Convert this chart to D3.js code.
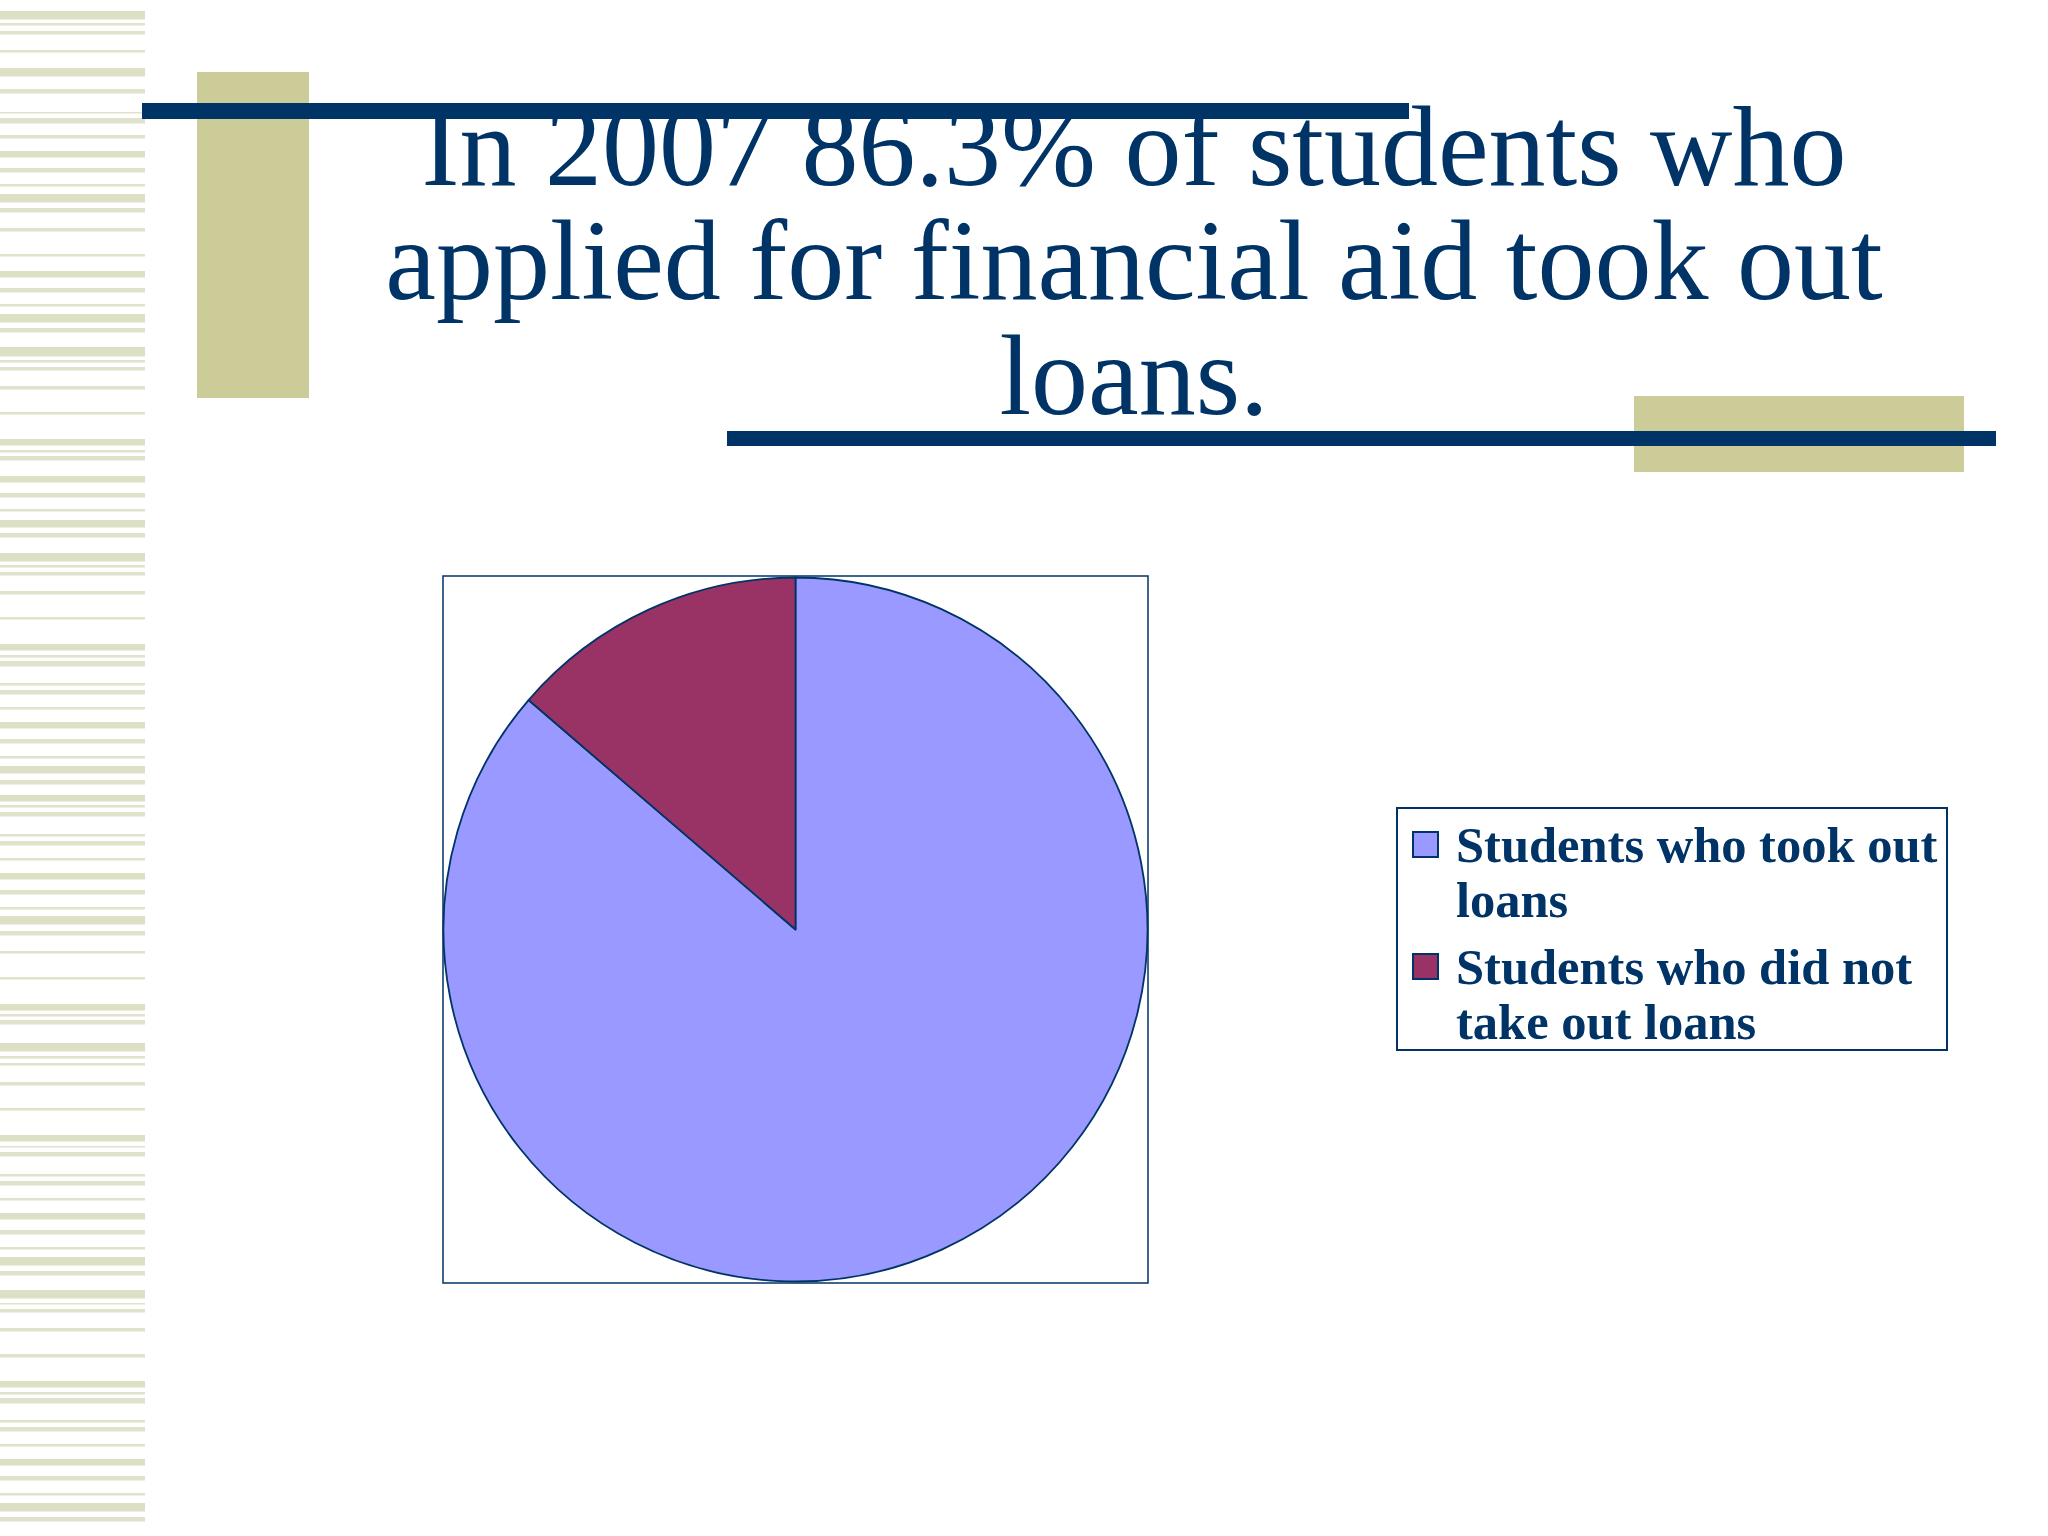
<!DOCTYPE html>
<html>
<head>
<meta charset="utf-8">
<script src="https://cdn.jsdelivr.net/npm/d3@7"></script>
<style>
  html, body { margin: 0; padding: 0; background: #ffffff; }
  svg { display: block; }
</style>
</head>
<body>
<svg id="chart" width="2048" height="1536"></svg>
<script>
// ---- data ----
const titleLines = ["In 2007 86.3% of students who", "applied for financial aid took out", "loans."];
const categories = ["Students who took out loans", "Students who did not take out loans"];
const legendLines = [["Students who took out", "loans"], ["Students who did not", "take out loans"]];
const values = [86.3, 13.7];
const colors = ["#9999ff", "#993366"];

// decorative stripe band (y start, y end)
const stripes = [[11,19],[23,25],[31,34],[50,52],[68,76],[89,93],[112,113],[118,123],[135,138],[151,157],[168,172],[184,186],[194,202],[208,212],[228,231],[254,256],[271,277],[288,292],[304,306],[314,322],[328,332],[347,356],[360,362],[367,370],[386,389],[412,414],[439,445],[450,452],[456,460],[476,482],[493,497],[509,511],[520,527],[533,537],[553,561],[565,567],[572,575],[591,594],[617,619],[644,650],[655,657],[661,666],[683,685],[690,694],[707,709],[722,728],[739,743],[756,758],[766,773],[780,784],[795,801],[805,807],[812,816],[834,836],[841,845],[858,860],[873,879],[890,894],[907,909],[916,924],[931,935],[951,953],[977,979],[1004,1010],[1014,1016],[1020,1024],[1043,1051],[1056,1058],[1063,1065],[1082,1085],[1108,1110],[1135,1141],[1146,1147],[1152,1156],[1174,1176],[1181,1185],[1198,1200],[1213,1219],[1230,1234],[1247,1249],[1257,1265],[1271,1275],[1290,1298],[1303,1304],[1309,1312],[1328,1331],[1354,1357],[1381,1387],[1392,1394],[1398,1403],[1420,1422],[1427,1431],[1444,1446],[1459,1465],[1476,1480],[1493,1495],[1503,1511],[1517,1521]];

const navy = "#003366";
const tan = "#cccc99";
const svg = d3.select("#chart");

// background
svg.append("rect").attr("width", 2048).attr("height", 1536).attr("fill", "#ffffff");

// stripes
svg.append("g").selectAll("rect").data(stripes).join("rect")
  .attr("x", 0).attr("width", 145)
  .attr("y", d => d[0]).attr("height", d => Math.max(1.5, d[1] - d[0] + 0.5))
  .attr("fill", d => (d[1] - d[0] >= 6 ? "#dde0c5" : "#e0e2cb"));

// tan rectangles
svg.append("rect").attr("x", 197).attr("y", 72).attr("width", 112).attr("height", 326).attr("fill", tan);
svg.append("rect").attr("x", 1634).attr("y", 396).attr("width", 330).attr("height", 76).attr("fill", tan);

// title
const title = svg.append("g");
const baselines = [185, 299, 414];
title.selectAll("text").data(titleLines).join("text")
  .attr("x", 1134).attr("y", (d, i) => baselines[i])
  .attr("text-anchor", "middle")
  .attr("font-family", "'Liberation Serif', 'Times New Roman', serif")
  .attr("font-size", 114)
  .attr("fill", navy)
  .text(d => d);

// blue rules (drawn above the title)
svg.append("rect").attr("x", 142).attr("y", 103).attr("width", 1267).attr("height", 16).attr("fill", navy);
svg.append("rect").attr("x", 727).attr("y", 431).attr("width", 1269).attr("height", 15).attr("fill", navy);

// pie plot area
const box = {x: 443, y: 576, w: 705, h: 707};
svg.append("rect").attr("x", box.x).attr("y", box.y).attr("width", box.w).attr("height", box.h)
  .attr("fill", "#ffffff").attr("stroke", navy).attr("stroke-width", 1.5);

const cx = box.x + box.w / 2, cy = box.y + box.h / 2;
const r = 352;
const pie = d3.pie().sort(null).value(d => d)(values);
const arc = d3.arc().innerRadius(0).outerRadius(r);
svg.append("g").attr("transform", `translate(${cx},${cy})`)
  .selectAll("path").data(pie).join("path")
  .attr("d", arc)
  .attr("fill", (d, i) => colors[i])
  .attr("stroke", navy).attr("stroke-width", 1.8).attr("stroke-linejoin", "round");

// legend
const lg = svg.append("g");
lg.append("rect").attr("x", 1397).attr("y", 808).attr("width", 550).attr("height", 242)
  .attr("fill", "#ffffff").attr("stroke", navy).attr("stroke-width", 2);
const itemTop = [832, 954];
const lineBase = [[862, 917], [984, 1039]];
categories.forEach((c, i) => {
  lg.append("rect").attr("x", 1413).attr("y", itemTop[i]).attr("width", 25).attr("height", 25)
    .attr("fill", colors[i]).attr("stroke", navy).attr("stroke-width", 2);
  legendLines[i].forEach((t, j) => {
    lg.append("text").attr("x", 1456).attr("y", lineBase[i][j])
      .attr("font-family", "'Liberation Serif', 'Times New Roman', serif")
      .attr("font-weight", "bold").attr("font-size", 50.5)
      .attr("fill", navy).text(t);
  });
});
</script>
</body>
</html>
